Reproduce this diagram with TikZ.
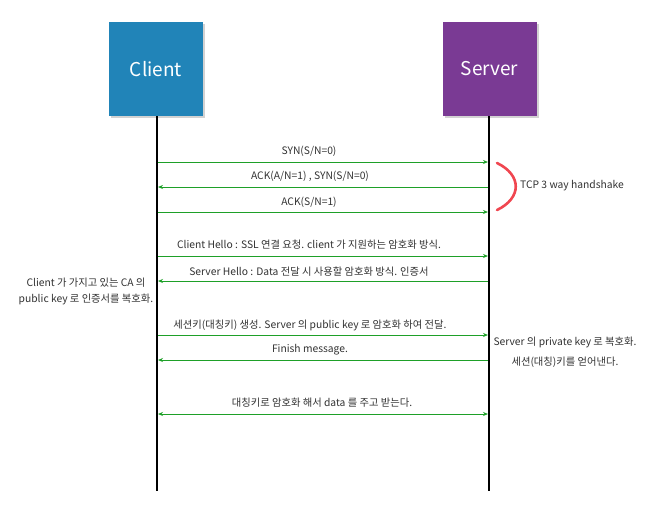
\documentclass[tikz,border=0pt]{standalone}
\usepackage{fontspec}
\setmainfont{Noto Sans CJK KR}
\usetikzlibrary{arrows.meta,shadows}
\definecolor{clientblue}{RGB}{33,132,184}
\definecolor{serverpurple}{RGB}{122,58,148}
\definecolor{msggreen}{RGB}{30,160,40}
\definecolor{arcred}{RGB}{240,70,80}
\definecolor{txt}{RGB}{50,50,50}
\tikzset{
  actor/.style={minimum width=94pt,minimum height=94pt,inner sep=0pt,text=white,font=\fontsize{19}{22}\selectfont,
    drop shadow={shadow xshift=2pt,shadow yshift=-2pt,opacity=0.35}},
  lifeline/.style={line width=1.6pt,black},
  msg/.style={draw=msggreen,line width=1pt,-{Stealth[length=5pt,width=4pt]}},
  msgboth/.style={draw=msggreen,line width=1pt,{Stealth[length=5pt,width=4pt]}-{Stealth[length=5pt,width=4pt]}},
  lbl/.style={text=txt,font=\fontsize{10.3}{12}\selectfont,inner sep=0pt},
  note/.style={text=txt,align=center,inner sep=0pt}
}
\begin{document}
\begin{tikzpicture}[x=1pt,y=-1pt]
\useasboundingbox (0,0) rectangle (650,504);
\fill[white] (0,0) rectangle (650,504);
% actors
\node[actor,fill=clientblue] (client) at (156,69) {Client};
\node[actor,fill=serverpurple] (server) at (489.5,69) {Server};
% lifelines
\coordinate (cend) at (157,491);
\coordinate (send) at (489,491);
\draw[lifeline] (client.south -| cend) -- (cend);
\draw[lifeline] (server.south -| send) -- (send);
% message endpoints
\foreach \n/\y in {1/162,2/187,3/212,4/256,5/281,6/335,7/360,8/414}{
  \coordinate (c\n) at (158,\y);
  \coordinate (s\n) at (488,\y);
}
\draw[msg] (c1) -- (s1);
\draw[msg] (s2) -- (c2);
\draw[msg] (c3) -- (s3);
\draw[msg] (c4) -- (s4);
\draw[msg] (s5) -- (c5);
\draw[msg] (c6) -- (s6);
\draw[msg] (s7) -- (c7);
\draw[msgboth] (c8) -- (s8);
% labels
\node[lbl] (l1) at (309,151) {SYN(S/N=0)};
\node[lbl] (l2) at (310,176.5) {ACK(A/N=1) , SYN(S/N=0)};
\node[lbl] (l3) at (309,202) {ACK(S/N=1)};
\node[lbl] (l4) at (309,245) {Client Hello : SSL 연결 요청. client 가 지원하는 암호화 방식.};
\node[lbl] (l5) at (309,272) {Server Hello : Data 전달 시 사용할 암호화 방식. 인증서};
\node[lbl] (l6) at (310,325) {세션키(대칭키) 생성. Server 의 public key 로 암호화 하여 전달.};
\node[lbl] (l7) at (310,350) {Finish message.};
\node[lbl] (l8) at (322,403) {대칭키로 암호화 해서 data 를 주고 받는다.};
% handshake arc
\coordinate (a1) at (497,163);
\coordinate (a2) at (497,210);
\draw[arcred,line width=2.6pt,line cap=round] (a1) .. controls (522,175) and (522,198) .. (a2);
\node[lbl,anchor=west] (tcp) at (520,186) {TCP 3 way handshake};
% notes
\node[note,font=\fontsize{10.3}{16}\selectfont] (n1) at (86,291) {Client 가 가지고 있는 CA 의\\public key 로 인증서를 복호화.};
\node[note,font=\fontsize{10.3}{19.5}\selectfont] (n2) at (565,352) {Server 의 private key 로 복호화.\\세션(대칭)키를 얻어낸다.};
\end{tikzpicture}
\end{document}
